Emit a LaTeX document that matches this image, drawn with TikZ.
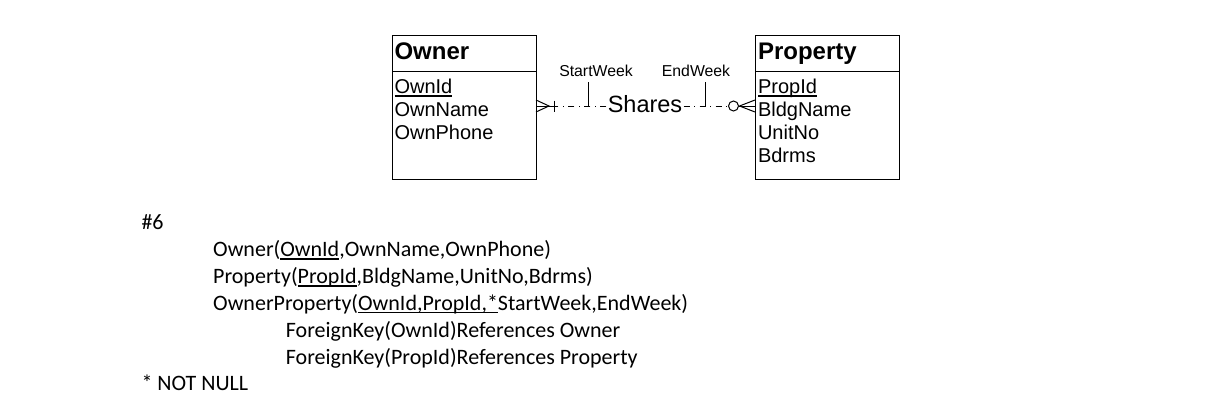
\documentclass[tikz,border=0pt]{standalone}
\usepackage{fontspec}
\setmainfont{Carlito}
\newfontfamily\arialf{Liberation Sans}
\newcommand\myul[1]{\setbox0\hbox{#1}\rlap{\vrule width\wd0 height -1.8pt depth 3.2pt}\box0}
\begin{document}
\begin{tikzpicture}[x=1pt,y=-1pt,line width=1pt,
 ent/.style={draw, minimum width=144pt, minimum height=144pt, anchor=north west, inner sep=0pt},
 hdr/.style={anchor=base west, inner sep=0pt, font=\arialf\bfseries\fontsize{24}{26}\selectfont},
 attr/.style={anchor=base west, inner sep=0pt, font=\arialf\fontsize{20}{22}\selectfont},
 lbl/.style={anchor=base, inner sep=0pt, font=\arialf\fontsize{15.8}{17}\selectfont},
 rel/.style={anchor=base, inner xsep=1pt, inner ysep=0pt, font=\arialf\fontsize{23.5}{26}\selectfont},
 txt/.style={anchor=base west, inner sep=0pt, font=\fontsize{22}{26}\selectfont},
 dd/.style={dash pattern=on 6pt off 4.5pt on 1pt off 4.5pt}]
\useasboundingbox (0,0) rectangle (1217,412);
\fill[white] (0,0) rectangle (1217,412);
% entities
\node[ent] (owner) at (392,35) {};
\node[ent] (prop) at (755,35) {};
\draw ([yshift=-36.7pt]owner.north west) -- ([yshift=-36.7pt]owner.north east);
\draw ([yshift=-36.7pt]prop.north west) -- ([yshift=-36.7pt]prop.north east);
\node[hdr] (oh) at (394,59.3) {Owner};
\node[attr] (o1) at (394,93.3) {\myul{OwnId}};
\node[attr] (o2) at (394,116.3) {OwnName};
\node[attr] (o3) at (394,139.3) {OwnPhone};
\node[hdr] (ph) at (757.5,59.3) {Property};
\node[attr] (p1) at (757.5,93.3) {\myul{PropId}};
\node[attr] (p2) at (757.5,116.3) {BldgName};
\node[attr] (p3) at (757.5,139.3) {UnitNo};
\node[attr] (p4) at (757.5,162.3) {Bdrms};
% relationship
\node[rel] (sh) at (645,112) {Shares};
\node[lbl] (sw) at (596,76) {StartWeek};
\node[lbl] (ew) at (696,76) {EndWeek};
\coordinate (oe) at (536,106);
\coordinate (ot) at (536,100);
\coordinate (ob) at (536,112);
\coordinate (ox) at (549,106);
\coordinate (bar) at (554,106);
\coordinate (pe) at (755,106);
\coordinate (pt) at (755,100);
\coordinate (pb) at (755,112);
\coordinate (px) at (739.5,106);
\coordinate (cc) at (733.5,106);
\coordinate (swt) at (588.5,82);
\coordinate (swb) at (588.5,106);
\coordinate (ewt) at (705,82);
\coordinate (ewb) at (705,106);
\draw (ot) -- (ox) -- (ob);
\draw (oe) -- (bar);
\draw ([yshift=5.5pt]bar) -- ([yshift=-5.5pt]bar);
\draw[dd] (sh.west |- bar) -- (bar);
\draw[dd] (sh.east |- bar) -- ([xshift=-5pt]cc);
\draw (cc) circle[radius=5pt];
\draw ([xshift=5pt]cc) -- (pe);
\draw (pt) -- (px) -- (pb);
\draw (swt) -- (swb);
\draw (ewt) -- (ewb);
% text
\node[txt] (t0) at (141,229.5) {\#6};
\node[txt] (t1) at (212.7,256.4) {Owner(\myul{OwnId},OwnName,OwnPhone)};
\node[txt] (t2) at (212.7,283.3) {Property(\myul{PropId},BldgName,UnitNo,Bdrms)};
\node[txt] (t3) at (212.7,310.2) {OwnerProperty(\myul{OwnId,PropId,*}StartWeek,EndWeek)};
\node[txt] (t4) at (285.4,337.1) {ForeignKey(OwnId)References Owner};
\node[txt] (t5) at (285.4,364) {ForeignKey(PropId)References Property};
\node[txt] (t6) at (141,390.9) {* NOT NULL};
\end{tikzpicture}
\end{document}
